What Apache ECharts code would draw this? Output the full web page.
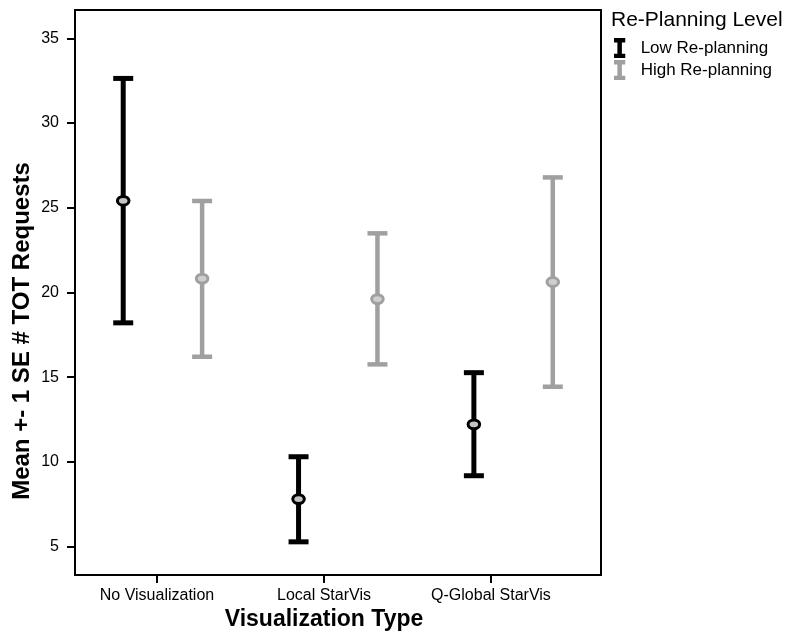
<!DOCTYPE html>
<html>
<head>
<meta charset="utf-8">
<script src="https://cdn.jsdelivr.net/npm/echarts@6/dist/echarts.min.js"></script>
<style>html,body{margin:0;padding:0;background:#fff;}#chart{width:792px;height:632px;}</style>
</head>
<body>
<div id="chart"></div>
<script>
// ---- data ----
const categories = ['No Visualization', 'Local StarVis', 'Q-Global StarVis'];
const yTicks = [5, 10, 15, 20, 25, 30, 35];
const seriesNames = ['Low Re-planning', 'High Re-planning'];
const lowMean  = [25.41, 7.81, 12.22];
const lowLower = [18.21, 5.29, 9.19];
const lowUpper = [32.63, 10.31, 15.27];
const highMean  = [20.82, 19.61, 20.62];
const highLower = [16.21, 15.76, 14.44];
const highUpper = [25.40, 23.49, 26.79];

// ---- layout helpers ----
const groupOffset = 0.225;
function build(mean, lower, upper, off) {
  return categories.map((c, i) => [i + 0.5 + off, lower[i], upper[i], mean[i]]);
}

function makeRender(lineW, innerFill) {
  return function (params, api) {
    const x = api.value(0), lo = api.value(1), hi = api.value(2), m = api.value(3);
    const pT = api.coord([x, hi]), pB = api.coord([x, lo]), pM = api.coord([x, m]);
    const color = api.visual('color');
    const st = { stroke: color, lineWidth: lineW, fill: null };
    const capW = 10;
    return {
      type: 'group',
      children: [
        { type: 'line', shape: { x1: pT[0], y1: pT[1], x2: pB[0], y2: pB[1] }, style: st },
        { type: 'line', shape: { x1: pT[0] - capW, y1: pT[1], x2: pT[0] + capW, y2: pT[1] }, style: st },
        { type: 'line', shape: { x1: pB[0] - capW, y1: pB[1], x2: pB[0] + capW, y2: pB[1] }, style: st },
        { type: 'ellipse', shape: { cx: pM[0], cy: pM[1], rx: 5.8, ry: 4.4 },
          style: { fill: innerFill, stroke: color, lineWidth: 3 } }
      ]
    };
  };
}

const iconPath = 'path://M0,0H9V3.5H6.3V12.5H9V16H0V12.5H2.7V3.5H0Z';
const font = 'Liberation Sans, Arial, Helvetica, sans-serif';

const chart = echarts.init(document.getElementById('chart'));
chart.setOption({
  backgroundColor: '#fff',
  animation: false,
  grid: { left: 75, top: 10, right: 191, bottom: 57, show: true, borderColor: '#000', borderWidth: 2, backgroundColor: 'transparent' },
  title: {
    text: 'Re-Planning Level', left: 611, top: 10, padding: 0,
    textStyle: { fontFamily: font, fontSize: 21, fontWeight: 'normal', color: '#000' }
  },
  legend: {
    orient: 'vertical', left: 614, top: 38, itemWidth: 12, itemHeight: 20, itemGap: 2,
    padding: 0,
    data: [
      { name: seriesNames[0], icon: iconPath, itemStyle: { color: '#000' } },
      { name: seriesNames[1], icon: iconPath, itemStyle: { color: '#a0a0a0' } }
    ],
    textStyle: { fontFamily: font, fontSize: 17, color: '#000', padding: [0, 0, 0, 10] },
    selectedMode: false
  },
  xAxis: [
    { type: 'value', min: 0, max: 3, show: false },
    {
      type: 'value', position: 'bottom', min: -0.491, max: 2.659,
      axisLine: { show: false },
      splitLine: { show: false },
      axisTick: { show: true, customValues: [0, 1, 2], length: 8, lineStyle: { color: '#000', width: 2 } },
      axisLabel: {
        customValues: [0, 1, 2], margin: 13,
        formatter: v => categories[Math.round(v)],
        fontFamily: font, fontSize: 16, color: '#000'
      }
    }
  ],
  yAxis: {
    type: 'value', min: 3.333, max: 36.667,
    axisLine: { show: true, lineStyle: { color: '#000', width: 2 } },
    splitLine: { show: false },
    axisTick: { show: true, customValues: yTicks, length: 8, lineStyle: { color: '#000', width: 2 } },
    axisLabel: { customValues: yTicks, margin: 16, fontFamily: font, fontSize: 16, color: '#000' }
  },
  graphic: [
    { type: 'text', x: 22, y: 331, rotation: Math.PI / 2,
      style: { text: 'Mean +- 1 SE # TOT Requests', fontFamily: font, fontSize: 24, fontWeight: 'bold', fill: '#000', align: 'center', verticalAlign: 'middle' } },
    { type: 'text', x: 324, y: 620,
      style: { text: 'Visualization Type', fontFamily: font, fontSize: 23, fontWeight: 'bold', fill: '#000', align: 'center', verticalAlign: 'middle' } }
  ],
  series: [
    { name: seriesNames[0], type: 'custom', xAxisIndex: 0, itemStyle: { color: '#000' },
      renderItem: makeRender(5, '#c4c4c4'), data: build(lowMean, lowLower, lowUpper, -groupOffset), encode: { x: 0, y: [1, 2, 3] } },
    { name: seriesNames[1], type: 'custom', xAxisIndex: 0, itemStyle: { color: '#a0a0a0' },
      renderItem: makeRender(4.5, '#cfcfcf'), data: build(highMean, highLower, highUpper, groupOffset), encode: { x: 0, y: [1, 2, 3] } }
  ]
});
</script>
</body>
</html>
